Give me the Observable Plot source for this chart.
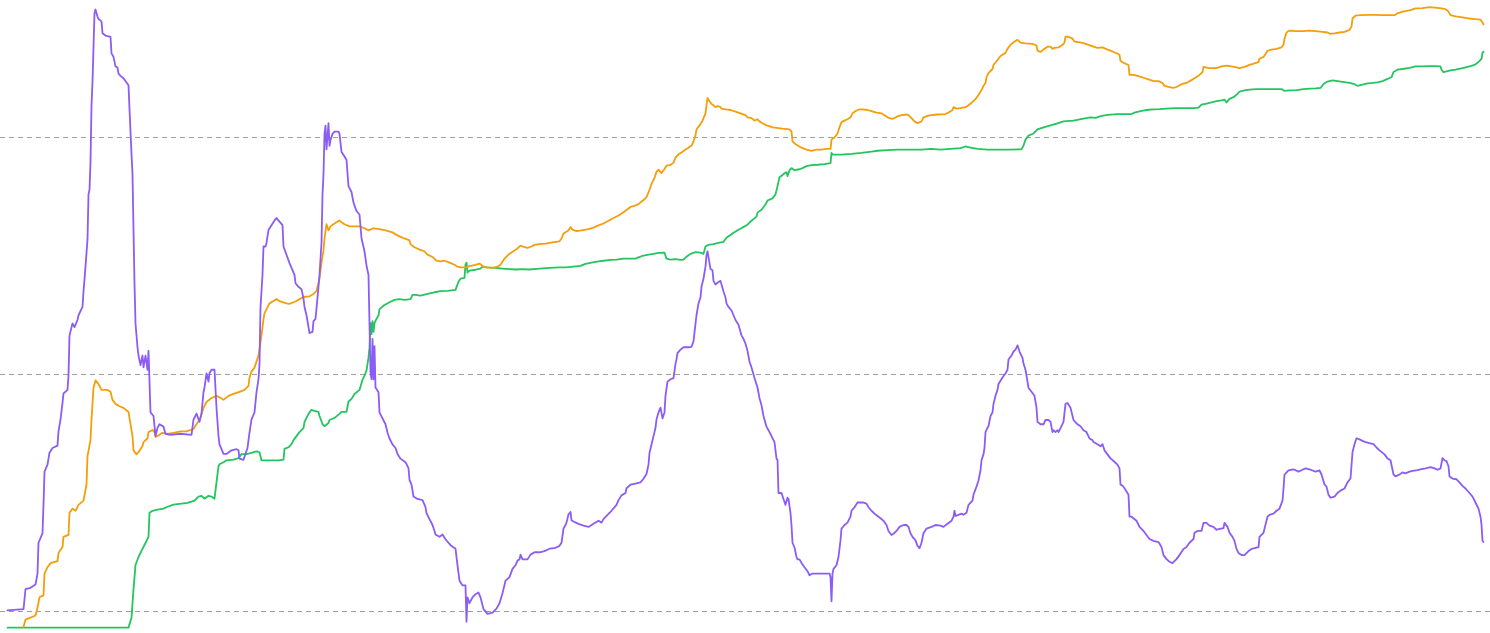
<!DOCTYPE html>
<html><head><meta charset="utf-8">
<script src="https://cdn.jsdelivr.net/npm/d3@7"></script>
<script src="https://cdn.jsdelivr.net/npm/@observablehq/plot@0.6"></script>
<style>html,body{margin:0;padding:0;background:#fff;overflow:hidden}#chart svg{display:block}</style>
</head><body><div id="chart"></div>
<script>
// reference levels (dashed grid)
const gridValues = [0, 1, 2];

// [day index, value]
const purpleSeries = [[0,0.005],[16,0.01],[18,0.094],[23,0.10],[28,0.114],[30,0.16],[31,0.29],[35,0.33],[36,0.45],[37,0.59],[40,0.62],[42,0.67],[45,0.69],[50,0.70],[51,0.76],[53,0.81],[55,0.88],[56,0.92],[60,0.935],[61,0.995],[62,1.165],[65,1.215],[67,1.20],[70,1.23],[71,1.25],[75,1.285],[76,1.35],[78,1.455],[80,1.57],[81,1.76],[82,1.78],[83,1.895],[84,2.135],[85,2.235],[87,2.525],[88,2.54],[90,2.51],[91,2.50],[94,2.49],[95,2.44],[98,2.43],[103,2.425],[104,2.355],[106,2.34],[108,2.30],[110,2.295],[111,2.27],[113,2.26],[116,2.25],[121,2.22],[122,2.12],[124,1.93],[125,1.845],[126,1.61],[127,1.385],[128,1.215],[130,1.115],[131,1.08],[133,1.04],[135,1.08],[136,1.03],[138,1.08],[140,1.02],[141,1.10],[143,0.84],[146,0.825],[148,0.74],[150,0.775],[152,0.79],[156,0.78],[158,0.75],[163,0.745],[173,0.75],[184,0.745],[186,0.81],[189,0.835],[192,0.80],[194,0.835],[196,0.925],[197,0.945],[199,1.005],[201,0.97],[202,1.005],[204,1.02],[207,1.02],[209,0.86],[211,0.74],[212,0.705],[216,0.665],[219,0.665],[224,0.68],[229,0.685],[231,0.68],[232,0.645],[236,0.64],[238,0.665],[240,0.69],[242,0.755],[244,0.81],[247,0.84],[249,0.925],[251,0.98],[252,1.045],[253,1.285],[255,1.42],[256,1.54],[258,1.54],[259,1.555],[261,1.61],[264,1.63],[267,1.65],[269,1.66],[272,1.645],[275,1.63],[276,1.54],[279,1.505],[282,1.47],[285,1.44],[287,1.42],[288,1.385],[291,1.37],[294,1.36],[296,1.32],[297,1.285],[299,1.25],[301,1.20],[302,1.175],[305,1.18],[306,1.225],[308,1.235],[311,1.37],[312,1.42],[314,1.555],[315,1.76],[316,1.845],[317,2.015],[318,2.05],[319,1.95],[321,2.06],[322,1.965],[323,1.99],[325,2.015],[327,2.025],[331,2.025],[332,2.015],[334,1.94],[337,1.92],[339,1.905],[341,1.795],[344,1.77],[346,1.725],[349,1.69],[352,1.675],[354,1.575],[357,1.52],[359,1.46],[361,1.42],[362,1.215],[363,1.01],[364,0.98],[365,1.15],[366,0.98],[367,1.12],[368,0.945],[371,0.925],[372,0.84],[375,0.815],[378,0.79],[380,0.755],[382,0.73],[385,0.705],[388,0.69],[390,0.665],[393,0.645],[398,0.63],[401,0.605],[402,0.555],[404,0.535],[406,0.485],[410,0.475],[415,0.47],[418,0.44],[419,0.415],[422,0.39],[425,0.365],[427,0.34],[428,0.325],[432,0.315],[435,0.325],[438,0.305],[443,0.28],[448,0.265],[450,0.195],[452,0.13],[455,0.11],[458,0.11],[459,-0.043],[460,0.06],[462,0.035],[465,0.06],[468,0.073],[471,0.08],[473,0.06],[476,0.01],[480,-0.01],[485,-0.005],[489,0.012],[492,0.035],[495,0.077],[498,0.13],[502,0.145],[505,0.18],[508,0.195],[510,0.215],[512,0.22],[513,0.24],[515,0.22],[520,0.22],[523,0.24],[527,0.25],[532,0.25],[537,0.255],[542,0.265],[547,0.267],[552,0.277],[554,0.29],[556,0.35],[558,0.365],[559,0.375],[561,0.41],[563,0.42],[564,0.385],[566,0.38],[571,0.37],[576,0.362],[581,0.357],[586,0.37],[591,0.383],[594,0.375],[596,0.39],[599,0.403],[604,0.425],[609,0.45],[611,0.47],[614,0.49],[618,0.50],[619,0.52],[623,0.535],[628,0.54],[633,0.545],[636,0.56],[639,0.58],[641,0.62],[642,0.67],[644,0.705],[646,0.74],[648,0.775],[649,0.81],[651,0.84],[653,0.86],[655,0.815],[657,0.84],[658,0.91],[660,0.97],[663,0.98],[666,0.985],[668,1.045],[669,1.065],[670,1.09],[673,1.105],[676,1.115],[681,1.115],[684,1.117],[686,1.14],[688,1.215],[689,1.25],[691,1.30],[693,1.325],[694,1.37],[696,1.405],[698,1.455],[699,1.505],[700,1.52],[702,1.47],[703,1.445],[705,1.44],[706,1.395],[708,1.38],[711,1.39],[713,1.395],[714,1.38],[716,1.35],[718,1.325],[719,1.30],[721,1.285],[724,1.27],[728,1.23],[731,1.21],[734,1.165],[736,1.15],[738,1.13],[740,1.10],[742,1.055],[744,1.03],[747,0.985],[750,0.945],[752,0.90],[754,0.87],[756,0.825],[759,0.78],[761,0.765],[764,0.74],[767,0.715],[769,0.645],[770,0.64],[771,0.50],[774,0.50],[776,0.475],[778,0.45],[780,0.48],[781,0.475],[783,0.415],[784,0.365],[785,0.29],[787,0.27],[789,0.23],[790,0.22],[792,0.22],[794,0.205],[797,0.187],[800,0.17],[802,0.153],[805,0.16],[810,0.16],[817,0.16],[822,0.16],[823,0.145],[824,0.043],[825,0.16],[826,0.18],[829,0.195],[831,0.23],[833,0.30],[834,0.35],[837,0.365],[840,0.375],[843,0.40],[844,0.425],[847,0.44],[850,0.46],[855,0.46],[859,0.455],[861,0.44],[864,0.425],[867,0.413],[870,0.403],[874,0.39],[876,0.383],[879,0.365],[881,0.34],[884,0.323],[886,0.328],[889,0.34],[892,0.357],[896,0.365],[899,0.365],[901,0.357],[903,0.33],[905,0.315],[908,0.30],[910,0.277],[912,0.267],[914,0.29],[916,0.33],[919,0.35],[924,0.357],[928,0.365],[933,0.362],[936,0.357],[940,0.37],[944,0.383],[946,0.40],[947,0.425],[948,0.403],[951,0.408],[954,0.413],[956,0.408],[959,0.417],[961,0.45],[965,0.468],[966,0.493],[969,0.527],[971,0.553],[973,0.595],[974,0.638],[976,0.663],[977,0.69],[978,0.757],[980,0.775],[981,0.782],[983,0.825],[985,0.84],[986,0.876],[988,0.91],[990,0.935],[991,0.96],[995,0.987],[998,1.004],[1000,1.02],[1001,1.063],[1004,1.08],[1006,1.097],[1008,1.105],[1010,1.123],[1012,1.097],[1015,1.07],[1016,1.046],[1018,1.02],[1020,0.97],[1021,0.944],[1024,0.927],[1027,0.91],[1029,0.86],[1030,0.80],[1033,0.79],[1036,0.79],[1038,0.808],[1041,0.808],[1043,0.80],[1045,0.757],[1046,0.765],[1048,0.757],[1050,0.765],[1051,0.757],[1053,0.774],[1056,0.80],[1058,0.876],[1060,0.88],[1063,0.86],[1066,0.808],[1070,0.79],[1073,0.782],[1076,0.765],[1079,0.757],[1082,0.73],[1085,0.723],[1086,0.715],[1090,0.706],[1093,0.697],[1095,0.706],[1097,0.68],[1100,0.663],[1103,0.646],[1106,0.635],[1110,0.62],[1112,0.604],[1113,0.536],[1116,0.527],[1121,0.493],[1122,0.40],[1124,0.40],[1129,0.383],[1132,0.357],[1136,0.34],[1139,0.323],[1142,0.306],[1146,0.298],[1151,0.293],[1154,0.272],[1156,0.238],[1159,0.221],[1162,0.21],[1165,0.204],[1169,0.221],[1172,0.238],[1176,0.264],[1179,0.272],[1182,0.29],[1186,0.306],[1187,0.332],[1190,0.34],[1194,0.34],[1196,0.374],[1199,0.374],[1202,0.362],[1206,0.357],[1209,0.345],[1212,0.349],[1216,0.352],[1217,0.374],[1220,0.357],[1222,0.332],[1225,0.315],[1227,0.298],[1229,0.264],[1231,0.247],[1234,0.238],[1237,0.238],[1241,0.255],[1244,0.264],[1247,0.267],[1251,0.272],[1252,0.315],[1256,0.332],[1258,0.366],[1260,0.40],[1262,0.408],[1266,0.413],[1269,0.425],[1272,0.434],[1275,0.468],[1276,0.519],[1277,0.578],[1281,0.595],[1286,0.60],[1291,0.59],[1296,0.60],[1298,0.604],[1302,0.60],[1305,0.595],[1308,0.59],[1312,0.595],[1314,0.578],[1317,0.536],[1319,0.527],[1321,0.493],[1323,0.48],[1327,0.485],[1330,0.50],[1333,0.51],[1337,0.519],[1340,0.545],[1343,0.561],[1345,0.672],[1347,0.706],[1349,0.731],[1352,0.726],[1355,0.72],[1358,0.715],[1362,0.71],[1366,0.706],[1369,0.692],[1372,0.68],[1377,0.663],[1380,0.646],[1383,0.638],[1386,0.578],[1388,0.57],[1392,0.578],[1395,0.587],[1398,0.583],[1402,0.59],[1405,0.593],[1410,0.597],[1413,0.60],[1418,0.604],[1423,0.609],[1427,0.604],[1430,0.598],[1433,0.604],[1435,0.647],[1437,0.638],[1439,0.635],[1441,0.613],[1442,0.57],[1445,0.561],[1449,0.558],[1452,0.545],[1455,0.53],[1458,0.519],[1462,0.50],[1465,0.485],[1468,0.46],[1471,0.434],[1473,0.40],[1474,0.366],[1475,0.298],[1476,0.294]];

const orangeSeries = [[16,-0.065],[18,-0.034],[23,-0.026],[28,-0.017],[30,0.017],[32,0.06],[36,0.068],[37,0.16],[40,0.187],[43,0.204],[50,0.213],[51,0.247],[55,0.272],[56,0.315],[61,0.323],[62,0.417],[65,0.434],[68,0.425],[71,0.45],[76,0.468],[79,0.536],[80,0.655],[83,0.723],[84,0.808],[86,0.944],[88,0.975],[91,0.96],[94,0.935],[100,0.935],[103,0.927],[105,0.893],[108,0.876],[111,0.868],[116,0.859],[121,0.842],[123,0.791],[125,0.74],[126,0.68],[129,0.663],[131,0.672],[135,0.698],[136,0.715],[140,0.731],[141,0.757],[145,0.766],[147,0.757],[148,0.737],[151,0.743],[155,0.754],[160,0.749],[166,0.754],[173,0.76],[179,0.76],[186,0.77],[189,0.791],[192,0.808],[196,0.859],[199,0.884],[204,0.901],[209,0.91],[212,0.904],[216,0.893],[221,0.91],[226,0.918],[232,0.927],[237,0.935],[241,0.952],[242,0.987],[244,1.012],[247,1.029],[251,1.08],[254,1.165],[256,1.233],[257,1.259],[259,1.276],[262,1.30],[266,1.31],[269,1.318],[272,1.31],[279,1.30],[282,1.298],[286,1.305],[289,1.31],[292,1.318],[296,1.327],[302,1.33],[306,1.34],[309,1.353],[312,1.404],[314,1.472],[316,1.523],[317,1.574],[319,1.634],[321,1.608],[323,1.625],[326,1.634],[329,1.642],[332,1.65],[334,1.642],[337,1.634],[342,1.625],[352,1.625],[357,1.617],[361,1.608],[366,1.617],[372,1.613],[378,1.608],[385,1.60],[388,1.591],[392,1.583],[397,1.574],[402,1.566],[403,1.549],[407,1.537],[412,1.527],[417,1.52],[420,1.506],[425,1.496],[429,1.48],[433,1.477],[437,1.48],[442,1.472],[447,1.463],[450,1.455],[453,1.452],[458,1.452],[463,1.458],[468,1.463],[472,1.468],[475,1.458],[478,1.452],[485,1.45],[490,1.455],[493,1.463],[497,1.489],[501,1.506],[505,1.518],[510,1.532],[513,1.544],[517,1.537],[520,1.534],[524,1.54],[527,1.547],[532,1.55],[538,1.552],[545,1.557],[552,1.562],[554,1.574],[556,1.595],[558,1.60],[561,1.608],[563,1.622],[565,1.611],[569,1.605],[574,1.608],[581,1.613],[586,1.62],[591,1.629],[596,1.637],[601,1.649],[606,1.66],[611,1.671],[616,1.685],[619,1.694],[623,1.707],[626,1.71],[631,1.719],[636,1.736],[639,1.748],[642,1.779],[644,1.804],[647,1.83],[649,1.855],[651,1.864],[654,1.85],[657,1.867],[659,1.881],[663,1.884],[666,1.894],[668,1.915],[671,1.929],[674,1.937],[678,1.949],[681,1.957],[684,1.966],[686,1.983],[688,2.009],[689,2.034],[692,2.051],[695,2.071],[698,2.102],[699,2.136],[700,2.167],[702,2.153],[704,2.141],[706,2.136],[708,2.128],[710,2.133],[713,2.128],[714,2.122],[718,2.119],[723,2.116],[728,2.109],[733,2.102],[738,2.094],[740,2.085],[744,2.082],[747,2.071],[750,2.077],[752,2.068],[755,2.06],[759,2.051],[762,2.048],[765,2.043],[769,2.041],[775,2.037],[782,2.034],[784,2.026],[785,1.983],[789,1.969],[794,1.957],[799,1.949],[804,1.944],[809,1.949],[814,1.949],[819,1.952],[823,1.952],[824,1.991],[827,2.00],[830,2.017],[832,2.043],[834,2.065],[837,2.071],[840,2.077],[843,2.085],[845,2.102],[849,2.114],[852,2.119],[855,2.119],[860,2.116],[864,2.111],[869,2.105],[874,2.102],[877,2.094],[880,2.085],[884,2.079],[887,2.082],[890,2.089],[894,2.094],[899,2.097],[901,2.094],[904,2.082],[907,2.068],[910,2.06],[914,2.068],[916,2.085],[920,2.091],[924,2.094],[930,2.097],[938,2.099],[941,2.105],[945,2.116],[946,2.128],[949,2.122],[953,2.124],[958,2.128],[961,2.136],[965,2.15],[968,2.162],[971,2.179],[974,2.20],[976,2.218],[978,2.23],[979,2.255],[981,2.272],[985,2.289],[986,2.306],[990,2.327],[993,2.344],[998,2.357],[1000,2.374],[1003,2.391],[1006,2.402],[1010,2.412],[1013,2.40],[1018,2.397],[1025,2.395],[1029,2.388],[1030,2.366],[1033,2.361],[1036,2.371],[1040,2.383],[1043,2.383],[1045,2.374],[1047,2.378],[1051,2.38],[1055,2.391],[1057,2.40],[1058,2.425],[1061,2.425],[1065,2.417],[1067,2.405],[1071,2.402],[1076,2.398],[1081,2.391],[1086,2.383],[1090,2.378],[1095,2.38],[1100,2.371],[1105,2.363],[1110,2.354],[1112,2.349],[1113,2.323],[1116,2.315],[1121,2.306],[1122,2.264],[1126,2.264],[1131,2.259],[1136,2.252],[1141,2.245],[1146,2.238],[1151,2.238],[1155,2.23],[1157,2.218],[1162,2.213],[1166,2.209],[1169,2.213],[1174,2.225],[1179,2.23],[1184,2.242],[1189,2.255],[1192,2.264],[1195,2.276],[1196,2.298],[1202,2.293],[1209,2.293],[1214,2.30],[1219,2.303],[1224,2.30],[1229,2.296],[1232,2.293],[1237,2.298],[1242,2.306],[1247,2.313],[1251,2.318],[1252,2.332],[1256,2.34],[1258,2.352],[1260,2.366],[1264,2.371],[1269,2.374],[1274,2.38],[1276,2.391],[1277,2.417],[1279,2.443],[1282,2.451],[1289,2.449],[1296,2.449],[1302,2.451],[1308,2.449],[1315,2.446],[1320,2.443],[1323,2.437],[1327,2.439],[1332,2.443],[1337,2.446],[1342,2.454],[1344,2.468],[1345,2.502],[1348,2.514],[1353,2.516],[1362,2.517],[1368,2.517],[1375,2.516],[1382,2.516],[1387,2.516],[1390,2.524],[1395,2.531],[1402,2.536],[1408,2.545],[1415,2.546],[1422,2.55],[1427,2.548],[1432,2.546],[1437,2.543],[1440,2.536],[1442,2.524],[1443,2.516],[1448,2.511],[1455,2.507],[1462,2.502],[1468,2.499],[1473,2.497],[1475,2.485],[1476,2.477]];

const greenSeries = [[0,-0.068],[121,-0.068],[124,-0.026],[126,0.094],[128,0.196],[131,0.23],[135,0.264],[138,0.289],[141,0.315],[142,0.417],[145,0.425],[150,0.43],[156,0.434],[160,0.442],[166,0.451],[180,0.458],[184,0.464],[187,0.468],[191,0.485],[194,0.488],[197,0.476],[201,0.488],[204,0.485],[207,0.476],[209,0.545],[211,0.613],[212,0.621],[216,0.63],[219,0.638],[226,0.641],[231,0.647],[234,0.664],[239,0.664],[244,0.669],[249,0.676],[252,0.672],[254,0.638],[262,0.638],[271,0.638],[276,0.641],[277,0.686],[281,0.693],[284,0.706],[286,0.723],[289,0.74],[292,0.757],[296,0.774],[297,0.80],[301,0.834],[304,0.851],[307,0.846],[311,0.842],[312,0.825],[315,0.791],[317,0.782],[321,0.795],[322,0.808],[327,0.817],[332,0.834],[334,0.842],[339,0.842],[341,0.885],[344,0.897],[347,0.918],[352,0.935],[355,0.978],[357,0.995],[359,1.016],[361,1.071],[362,1.114],[363,1.217],[364,1.17],[365,1.225],[366,1.18],[367,1.217],[368,1.226],[371,1.25],[372,1.276],[377,1.293],[382,1.305],[387,1.315],[392,1.318],[397,1.315],[403,1.318],[405,1.336],[408,1.336],[413,1.333],[420,1.34],[427,1.347],[433,1.352],[440,1.353],[448,1.357],[451,1.391],[453,1.404],[457,1.408],[458,1.464],[459,1.472],[460,1.43],[462,1.438],[468,1.442],[473,1.447],[475,1.455],[480,1.452],[488,1.45],[495,1.447],[502,1.445],[508,1.443],[515,1.445],[522,1.443],[532,1.447],[542,1.45],[552,1.452],[558,1.452],[566,1.455],[573,1.458],[578,1.467],[584,1.472],[591,1.477],[596,1.48],[603,1.484],[609,1.485],[616,1.489],[623,1.489],[628,1.489],[631,1.494],[636,1.502],[641,1.506],[646,1.509],[651,1.513],[657,1.514],[659,1.489],[663,1.485],[668,1.487],[673,1.484],[676,1.485],[679,1.497],[683,1.509],[688,1.516],[693,1.514],[696,1.509],[698,1.54],[701,1.547],[706,1.55],[711,1.555],[716,1.56],[719,1.577],[723,1.589],[726,1.598],[731,1.611],[738,1.627],[740,1.632],[744,1.649],[749,1.666],[750,1.683],[754,1.695],[758,1.717],[760,1.734],[765,1.743],[768,1.76],[770,1.794],[772,1.832],[775,1.842],[777,1.849],[779,1.854],[780,1.837],[782,1.862],[784,1.871],[787,1.862],[792,1.866],[795,1.871],[799,1.879],[804,1.883],[810,1.885],[817,1.888],[823,1.892],[824,1.935],[825,1.928],[834,1.928],[844,1.931],[854,1.935],[864,1.94],[870,1.944],[880,1.947],[890,1.949],[904,1.949],[914,1.949],[924,1.952],[933,1.949],[943,1.952],[953,1.955],[958,1.962],[963,1.957],[970,1.952],[980,1.949],[990,1.949],[1003,1.949],[1014,1.95],[1016,1.966],[1018,1.991],[1021,2.008],[1026,2.017],[1030,2.034],[1036,2.043],[1043,2.051],[1050,2.06],[1056,2.068],[1066,2.071],[1076,2.08],[1083,2.085],[1088,2.083],[1093,2.09],[1100,2.095],[1110,2.099],[1124,2.099],[1127,2.105],[1134,2.112],[1141,2.117],[1146,2.119],[1152,2.12],[1159,2.122],[1167,2.124],[1176,2.124],[1186,2.124],[1191,2.126],[1194,2.139],[1199,2.143],[1204,2.148],[1209,2.153],[1214,2.157],[1217,2.16],[1219,2.148],[1222,2.163],[1226,2.17],[1230,2.184],[1232,2.194],[1237,2.199],[1242,2.202],[1249,2.204],[1259,2.204],[1269,2.204],[1274,2.204],[1277,2.197],[1282,2.199],[1289,2.20],[1296,2.204],[1302,2.206],[1308,2.207],[1313,2.209],[1316,2.226],[1320,2.236],[1325,2.241],[1330,2.238],[1335,2.235],[1342,2.23],[1347,2.225],[1350,2.218],[1355,2.223],[1360,2.228],[1365,2.23],[1370,2.233],[1375,2.238],[1380,2.247],[1384,2.255],[1386,2.276],[1390,2.286],[1395,2.289],[1402,2.294],[1408,2.30],[1415,2.30],[1422,2.301],[1428,2.301],[1433,2.30],[1434,2.286],[1436,2.276],[1439,2.279],[1443,2.283],[1448,2.286],[1455,2.293],[1462,2.30],[1467,2.306],[1470,2.315],[1472,2.323],[1474,2.332],[1475,2.357],[1476,2.362]];

const rows = a => a.map(([t, v]) => ({t, v}));

const chart = Plot.plot({
  width: 1490,
  height: 633,
  margin: 0,
  x: {domain: [-7, 1483], axis: null},
  y: {domain: [-0.0928, 2.578], axis: null},
  marks: [
    Plot.ruleY(gridValues, {stroke: "#9e9e9e", strokeWidth: 1, strokeDasharray: "5,4"}),
    Plot.line(rows(greenSeries), {x: "t", y: "v", stroke: "#22c55e", strokeWidth: 1.8}),
    Plot.line(rows(orangeSeries), {x: "t", y: "v", stroke: "#f59e0b", strokeWidth: 1.8}),
    Plot.line(rows(purpleSeries), {x: "t", y: "v", stroke: "#8b5cf6", strokeWidth: 1.8})
  ]
});
document.getElementById("chart").appendChild(chart);
</script>
</body></html>
